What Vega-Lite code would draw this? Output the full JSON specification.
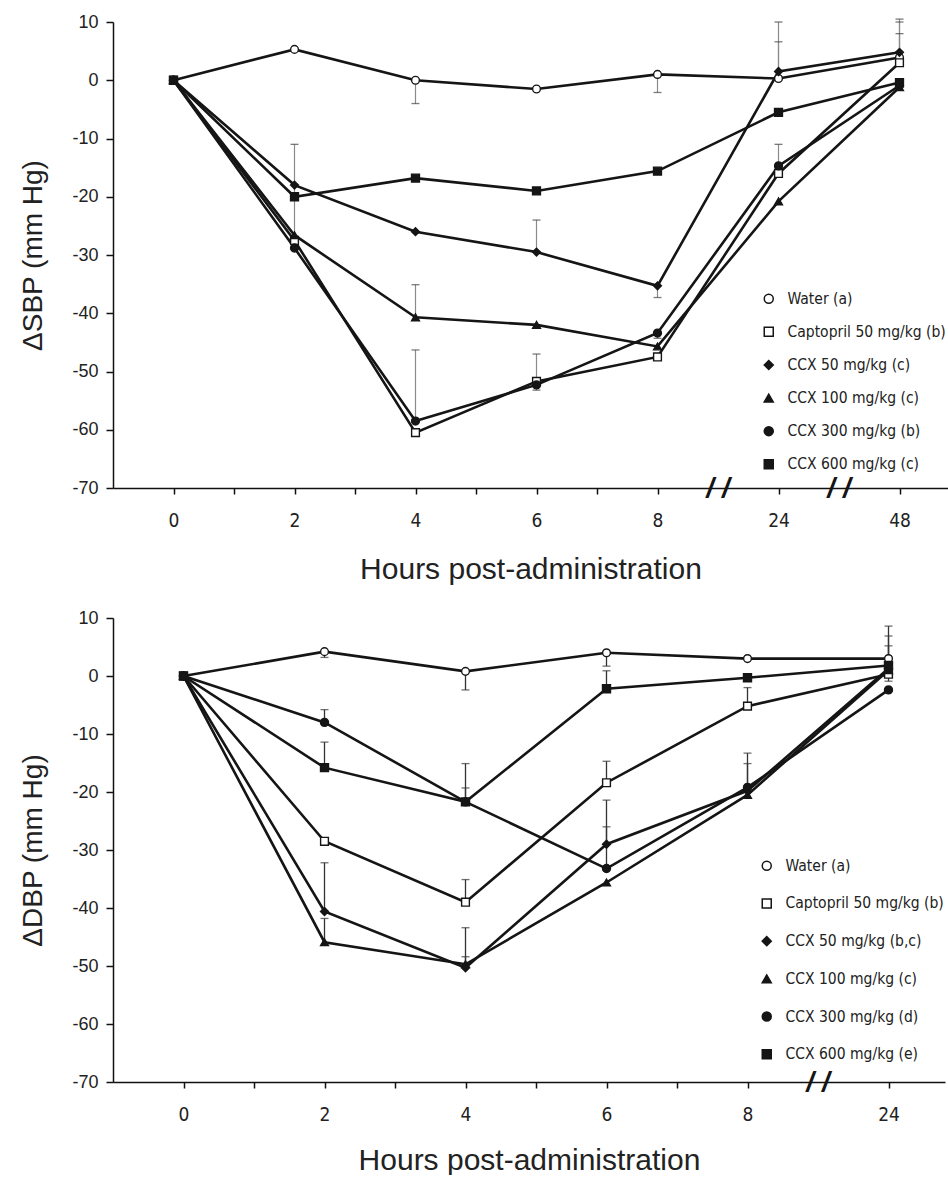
{
  "$schema": "https://vega.github.io/schema/vega-lite/v6.json",
  "background": "white",
  "autosize": {"type": "pad"},
  "padding": {"left": 19, "top": 13, "right": 0, "bottom": 0},
  "spacing": 130,
  "bounds": "flush",
  "config": {
    "view": {"stroke": null},
    "font": "Liberation Sans",
    "axis": {
      "grid": false,
      "domainColor": "#111",
      "domainWidth": 1.5,
      "tickColor": "#111",
      "tickWidth": 1.5,
      "labelColor": "#222",
      "titleColor": "#222",
      "labelFont": "Liberation Sans",
      "titleFont": "Liberation Sans",
      "titleFontWeight": "normal",
      "labelOverlap": false
    }
  },
  "datasets": {
    "sbp": [
      {"group": "Water (a)", "hours": 0, "change": 0},
      {"group": "Water (a)", "hours": 2, "change": 5.3},
      {"group": "Water (a)", "hours": 4, "change": 0},
      {"group": "Water (a)", "hours": 6, "change": -1.5},
      {"group": "Water (a)", "hours": 8, "change": 1.0},
      {"group": "Water (a)", "hours": 24, "change": 0.3},
      {"group": "Water (a)", "hours": 48, "change": 3.9},
      {"group": "Captopril 50 mg/kg (b)", "hours": 0, "change": 0},
      {"group": "Captopril 50 mg/kg (b)", "hours": 2, "change": -27.5},
      {"group": "Captopril 50 mg/kg (b)", "hours": 4, "change": -60.5},
      {"group": "Captopril 50 mg/kg (b)", "hours": 6, "change": -51.7},
      {"group": "Captopril 50 mg/kg (b)", "hours": 8, "change": -47.5},
      {"group": "Captopril 50 mg/kg (b)", "hours": 24, "change": -16},
      {"group": "Captopril 50 mg/kg (b)", "hours": 48, "change": 3.0},
      {"group": "CCX 50 mg/kg (c)", "hours": 0, "change": 0},
      {"group": "CCX 50 mg/kg (c)", "hours": 2, "change": -18},
      {"group": "CCX 50 mg/kg (c)", "hours": 4, "change": -26},
      {"group": "CCX 50 mg/kg (c)", "hours": 6, "change": -29.5},
      {"group": "CCX 50 mg/kg (c)", "hours": 8, "change": -35.3},
      {"group": "CCX 50 mg/kg (c)", "hours": 24, "change": 1.5},
      {"group": "CCX 50 mg/kg (c)", "hours": 48, "change": 4.8},
      {"group": "CCX 100 mg/kg (c)", "hours": 0, "change": 0},
      {"group": "CCX 100 mg/kg (c)", "hours": 2, "change": -26.6},
      {"group": "CCX 100 mg/kg (c)", "hours": 4, "change": -40.7},
      {"group": "CCX 100 mg/kg (c)", "hours": 6, "change": -42},
      {"group": "CCX 100 mg/kg (c)", "hours": 8, "change": -45.7},
      {"group": "CCX 100 mg/kg (c)", "hours": 24, "change": -20.8},
      {"group": "CCX 100 mg/kg (c)", "hours": 48, "change": -1.2},
      {"group": "CCX 300 mg/kg (b)", "hours": 0, "change": 0},
      {"group": "CCX 300 mg/kg (b)", "hours": 2, "change": -28.8},
      {"group": "CCX 300 mg/kg (b)", "hours": 4, "change": -58.5},
      {"group": "CCX 300 mg/kg (b)", "hours": 6, "change": -52.3},
      {"group": "CCX 300 mg/kg (b)", "hours": 8, "change": -43.4},
      {"group": "CCX 300 mg/kg (b)", "hours": 24, "change": -14.7},
      {"group": "CCX 300 mg/kg (b)", "hours": 48, "change": -0.9},
      {"group": "CCX 600 mg/kg (c)", "hours": 0, "change": 0},
      {"group": "CCX 600 mg/kg (c)", "hours": 2, "change": -20},
      {"group": "CCX 600 mg/kg (c)", "hours": 4, "change": -16.8},
      {"group": "CCX 600 mg/kg (c)", "hours": 6, "change": -19},
      {"group": "CCX 600 mg/kg (c)", "hours": 8, "change": -15.6},
      {"group": "CCX 600 mg/kg (c)", "hours": 24, "change": -5.5},
      {"group": "CCX 600 mg/kg (c)", "hours": 48, "change": -0.4}
    ],
    "sbp_err": [
      {"group": "CCX 100 mg/kg (c)", "hours": 2, "mean": -26.6, "cap": -11},
      {"group": "Water (a)", "hours": 4, "mean": 0, "cap": -4},
      {"group": "CCX 100 mg/kg (c)", "hours": 4, "mean": -40.7, "cap": -35.1},
      {"group": "CCX 300 mg/kg (b)", "hours": 4, "mean": -58.5, "cap": -46.3},
      {"group": "CCX 50 mg/kg (c)", "hours": 6, "mean": -29.5, "cap": -24},
      {"group": "Captopril 50 mg/kg (b)", "hours": 6, "mean": -51.7, "cap": -47},
      {"group": "CCX 300 mg/kg (b)", "hours": 6, "mean": -52.3, "cap": -53.2},
      {"group": "Water (a)", "hours": 8, "mean": 1.0, "cap": -2.1},
      {"group": "CCX 50 mg/kg (c)", "hours": 8, "mean": -35.3, "cap": -37.3},
      {"group": "CCX 300 mg/kg (b)", "hours": 8, "mean": -43.4, "cap": -44.3},
      {"group": "Water (a)", "hours": 24, "mean": 0.3, "cap": 10},
      {"group": "CCX 50 mg/kg (c)", "hours": 24, "mean": 1.5, "cap": 6.6},
      {"group": "Captopril 50 mg/kg (b)", "hours": 24, "mean": -16, "cap": -11},
      {"group": "CCX 50 mg/kg (c)", "hours": 48, "mean": 4.8, "cap": 10.5},
      {"group": "Water (a)", "hours": 48, "mean": 3.9, "cap": 10},
      {"group": "Captopril 50 mg/kg (b)", "hours": 48, "mean": 3.0, "cap": 8}
    ],
    "dbp": [
      {"group": "Water (a)", "hours": 0, "change": 0},
      {"group": "Water (a)", "hours": 2, "change": 4.2},
      {"group": "Water (a)", "hours": 4, "change": 0.8},
      {"group": "Water (a)", "hours": 6, "change": 4.0},
      {"group": "Water (a)", "hours": 8, "change": 3.0},
      {"group": "Water (a)", "hours": 24, "change": 3.0},
      {"group": "Captopril 50 mg/kg (b)", "hours": 0, "change": 0},
      {"group": "Captopril 50 mg/kg (b)", "hours": 2, "change": -28.5},
      {"group": "Captopril 50 mg/kg (b)", "hours": 4, "change": -39},
      {"group": "Captopril 50 mg/kg (b)", "hours": 6, "change": -18.4},
      {"group": "Captopril 50 mg/kg (b)", "hours": 8, "change": -5.2},
      {"group": "Captopril 50 mg/kg (b)", "hours": 24, "change": 0.3},
      {"group": "CCX 50 mg/kg (b,c)", "hours": 0, "change": 0},
      {"group": "CCX 50 mg/kg (b,c)", "hours": 2, "change": -40.6},
      {"group": "CCX 50 mg/kg (b,c)", "hours": 4, "change": -50.3},
      {"group": "CCX 50 mg/kg (b,c)", "hours": 6, "change": -29},
      {"group": "CCX 50 mg/kg (b,c)", "hours": 8, "change": -19.8},
      {"group": "CCX 50 mg/kg (b,c)", "hours": 24, "change": 1.3},
      {"group": "CCX 100 mg/kg (c)", "hours": 0, "change": 0},
      {"group": "CCX 100 mg/kg (c)", "hours": 2, "change": -45.9},
      {"group": "CCX 100 mg/kg (c)", "hours": 4, "change": -49.7},
      {"group": "CCX 100 mg/kg (c)", "hours": 6, "change": -35.6},
      {"group": "CCX 100 mg/kg (c)", "hours": 8, "change": -20.5},
      {"group": "CCX 100 mg/kg (c)", "hours": 24, "change": 1.0},
      {"group": "CCX 300 mg/kg (d)", "hours": 0, "change": 0},
      {"group": "CCX 300 mg/kg (d)", "hours": 2, "change": -8},
      {"group": "CCX 300 mg/kg (d)", "hours": 4, "change": -21.7},
      {"group": "CCX 300 mg/kg (d)", "hours": 6, "change": -33.2},
      {"group": "CCX 300 mg/kg (d)", "hours": 8, "change": -19.2},
      {"group": "CCX 300 mg/kg (d)", "hours": 24, "change": -2.4},
      {"group": "CCX 600 mg/kg (e)", "hours": 0, "change": 0},
      {"group": "CCX 600 mg/kg (e)", "hours": 2, "change": -15.8},
      {"group": "CCX 600 mg/kg (e)", "hours": 4, "change": -21.7},
      {"group": "CCX 600 mg/kg (e)", "hours": 6, "change": -2.2},
      {"group": "CCX 600 mg/kg (e)", "hours": 8, "change": -0.3},
      {"group": "CCX 600 mg/kg (e)", "hours": 24, "change": 1.8}
    ],
    "dbp_err": [
      {"group": "Water (a)", "hours": 2, "mean": 4.2, "cap": 3.2},
      {"group": "CCX 300 mg/kg (d)", "hours": 2, "mean": -8, "cap": -5.8},
      {"group": "CCX 600 mg/kg (e)", "hours": 2, "mean": -15.8, "cap": -11.4},
      {"group": "CCX 50 mg/kg (b,c)", "hours": 2, "mean": -40.6, "cap": -32.2},
      {"group": "CCX 100 mg/kg (c)", "hours": 2, "mean": -45.9, "cap": -41.8},
      {"group": "Water (a)", "hours": 4, "mean": 0.8, "cap": -2.4},
      {"group": "CCX 600 mg/kg (e)", "hours": 4, "mean": -21.7, "cap": -15.1},
      {"group": "CCX 300 mg/kg (d)", "hours": 4, "mean": -21.7, "cap": -19.3},
      {"group": "Captopril 50 mg/kg (b)", "hours": 4, "mean": -39, "cap": -35.1},
      {"group": "CCX 50 mg/kg (b,c)", "hours": 4, "mean": -50.3, "cap": -43.4},
      {"group": "CCX 100 mg/kg (c)", "hours": 4, "mean": -49.7, "cap": -48.4},
      {"group": "Water (a)", "hours": 6, "mean": 4.0, "cap": 1.7},
      {"group": "CCX 600 mg/kg (e)", "hours": 6, "mean": -2.2, "cap": 0.9},
      {"group": "Captopril 50 mg/kg (b)", "hours": 6, "mean": -18.4, "cap": -14.7},
      {"group": "CCX 50 mg/kg (b,c)", "hours": 6, "mean": -29, "cap": -21.4},
      {"group": "CCX 300 mg/kg (d)", "hours": 6, "mean": -33.2, "cap": -26},
      {"group": "Captopril 50 mg/kg (b)", "hours": 8, "mean": -5.2, "cap": -2.0},
      {"group": "CCX 50 mg/kg (b,c)", "hours": 8, "mean": -19.8, "cap": -13.3},
      {"group": "CCX 300 mg/kg (d)", "hours": 8, "mean": -19.2, "cap": -15.1},
      {"group": "Water (a)", "hours": 24, "mean": 3.0, "cap": 8.6},
      {"group": "CCX 600 mg/kg (e)", "hours": 24, "mean": 1.8, "cap": 6.9},
      {"group": "CCX 50 mg/kg (b,c)", "hours": 24, "mean": 1.3, "cap": 5.2},
      {"group": "Captopril 50 mg/kg (b)", "hours": 24, "mean": 0.3, "cap": -0.9}
    ],
    "sbp_breaks": [{"hours": 16}, {"hours": 36}],
    "dbp_breaks": [{"hours": 16}]
  },
  "vconcat": [
    {
      "width": 835,
      "height": 466,
      "layer": [
        {
          "data": {"name": "sbp_err"},
          "mark": {"type": "rule", "stroke": "#8a8a8a", "strokeWidth": 1.2},
          "encoding": {
            "x": {
              "field": "hours", "type": "quantitative",
              "scale": {"domain": [-1, 8, 24, 48, 57.6], "range": [0, 544.5, 665.5, 786.5, 835], "nice": false, "zero": false},
              "axis": {
                "values": [0, 1, 2, 3, 4, 5, 6, 7, 8, 24, 48],
                "labelExpr": "datum.value % 2 == 0 ? datum.label : ''",
                "title": "Hours post-administration",
                "titleFontSize": 30,
                "titlePadding": 24,
                "labelFont": "DejaVu Sans Condensed, Liberation Sans",
                "labelFontSize": 19,
                "labelPadding": 17,
                "tickSize": 6
              }
            },
            "y": {
              "field": "mean", "type": "quantitative",
              "scale": {"domain": [-70, 10], "nice": false, "zero": false},
              "axis": {
                "values": [-70, -60, -50, -40, -30, -20, -10, 0, 10],
                "labelExpr": "replace(datum.label, '\u2212', '-')",
                "title": "ΔSBP (mm Hg)",
                "titleFontSize": 28,
                "titlePadding": 24,
                "labelFontSize": 18,
                "labelPadding": 8,
                "tickSize": 7
              }
            },
            "y2": {"field": "cap"}
          }
        },
        {
          "data": {"name": "sbp_err"},
          "mark": {"type": "tick", "orient": "horizontal", "color": "#444", "thickness": 1.3, "size": 8},
          "encoding": {
            "x": {"field": "hours", "type": "quantitative"},
            "y": {"field": "cap", "type": "quantitative"}
          }
        },
        {
          "data": {"name": "sbp"},
          "mark": {"type": "line", "stroke": "#151515", "strokeWidth": 2.6},
          "encoding": {
            "x": {"field": "hours", "type": "quantitative"},
            "y": {"field": "change", "type": "quantitative"},
            "detail": {"field": "group"}
          }
        },
        {
          "data": {"name": "sbp_breaks"},
          "mark": {"type": "text", "text": "/ /", "font": "Liberation Sans", "fontSize": 28, "fontWeight": "bold", "fontStyle": "italic", "align": "center", "baseline": "middle", "dy": 1, "color": "#151515"},
          "encoding": {
            "x": {"field": "hours", "type": "quantitative"},
            "y": {"datum": -70}
          }
        },
        {
          "data": {"name": "sbp"},
          "mark": {"type": "point", "filled": true, "strokeWidth": 1.4, "opacity": 1},
          "encoding": {
            "x": {"field": "hours", "type": "quantitative"},
            "y": {"field": "change", "type": "quantitative"},
            "shape": {
              "field": "group", "type": "nominal",
              "scale": {
                "domain": ["Water (a)", "Captopril 50 mg/kg (b)", "CCX 50 mg/kg (c)", "CCX 100 mg/kg (c)", "CCX 300 mg/kg (b)", "CCX 600 mg/kg (c)", "CCX 50 mg/kg (b,c)", "CCX 300 mg/kg (d)", "CCX 600 mg/kg (e)"],
                "range": ["circle", "square", "diamond", "triangle-up", "circle", "square", "diamond", "circle", "square"]
              },
              "legend": {
                "title": null,
                "orient": "none",
                "legendX": 648,
                "legendY": 269,
                "values": ["Water (a)", "Captopril 50 mg/kg (b)", "CCX 50 mg/kg (c)", "CCX 100 mg/kg (c)", "CCX 300 mg/kg (b)", "CCX 600 mg/kg (c)"],
                "symbolSize": 81,
                "symbolStrokeWidth": 1.5,
                "labelFont": "DejaVu Sans Condensed, Liberation Sans",
                "labelFontSize": 15.5,
                "labelLimit": 300,
                "labelColor": "#222",
                "labelOffset": 11,
                "rowPadding": 16.1
              }
            },
            "fill": {
              "field": "group", "type": "nominal",
              "scale": {
                "domain": ["Water (a)", "Captopril 50 mg/kg (b)", "CCX 50 mg/kg (c)", "CCX 100 mg/kg (c)", "CCX 300 mg/kg (b)", "CCX 600 mg/kg (c)", "CCX 50 mg/kg (b,c)", "CCX 300 mg/kg (d)", "CCX 600 mg/kg (e)"],
                "range": ["white", "white", "#151515", "#151515", "#151515", "#151515", "#151515", "#151515", "#151515"]
              },
              "legend": {
                "title": null,
                "orient": "none",
                "legendX": 648,
                "legendY": 269,
                "values": ["Water (a)", "Captopril 50 mg/kg (b)", "CCX 50 mg/kg (c)", "CCX 100 mg/kg (c)", "CCX 300 mg/kg (b)", "CCX 600 mg/kg (c)"],
                "symbolSize": 81,
                "symbolStrokeWidth": 1.5,
                "labelFont": "DejaVu Sans Condensed, Liberation Sans",
                "labelFontSize": 15.5,
                "labelLimit": 300,
                "labelColor": "#222",
                "labelOffset": 11,
                "rowPadding": 16.1
              }
            },
            "stroke": {
              "field": "group", "type": "nominal",
              "scale": {
                "domain": ["Water (a)", "Captopril 50 mg/kg (b)", "CCX 50 mg/kg (c)", "CCX 100 mg/kg (c)", "CCX 300 mg/kg (b)", "CCX 600 mg/kg (c)", "CCX 50 mg/kg (b,c)", "CCX 300 mg/kg (d)", "CCX 600 mg/kg (e)"],
                "range": ["#151515", "#151515", "#151515", "#151515", "#151515", "#151515", "#151515", "#151515", "#151515"]
              },
              "legend": {
                "title": null,
                "orient": "none",
                "legendX": 648,
                "legendY": 269,
                "values": ["Water (a)", "Captopril 50 mg/kg (b)", "CCX 50 mg/kg (c)", "CCX 100 mg/kg (c)", "CCX 300 mg/kg (b)", "CCX 600 mg/kg (c)"],
                "symbolSize": 81,
                "symbolStrokeWidth": 1.5,
                "labelFont": "DejaVu Sans Condensed, Liberation Sans",
                "labelFontSize": 15.5,
                "labelLimit": 300,
                "labelColor": "#222",
                "labelOffset": 11,
                "rowPadding": 16.1
              }
            },
            "size": {
              "field": "group", "type": "nominal",
              "scale": {
                "domain": ["Water (a)", "Captopril 50 mg/kg (b)", "CCX 50 mg/kg (c)", "CCX 100 mg/kg (c)", "CCX 300 mg/kg (b)", "CCX 600 mg/kg (c)", "CCX 50 mg/kg (b,c)", "CCX 300 mg/kg (d)", "CCX 600 mg/kg (e)"],
                "range": [60, 64, 50, 64, 70, 80, 50, 70, 80]
              },
              "legend": null
            }
          }
        }
      ]
    },
    {
      "width": 832,
      "height": 464,
      "layer": [
        {
          "data": {"name": "dbp_err"},
          "mark": {"type": "rule", "stroke": "#333", "strokeWidth": 1.3},
          "encoding": {
            "x": {
              "field": "hours", "type": "quantitative",
              "scale": {"domain": [-1, 8, 24, 30.4], "range": [0, 634.5, 775.5, 832], "nice": false, "zero": false},
              "axis": {
                "values": [0, 1, 2, 3, 4, 5, 6, 7, 8, 24],
                "labelExpr": "datum.value % 2 == 0 ? datum.label : ''",
                "title": "Hours post-administration",
                "titleFontSize": 30,
                "titlePadding": 21,
                "labelFont": "DejaVu Sans Condensed, Liberation Sans",
                "labelFontSize": 19,
                "labelPadding": 17,
                "tickSize": 6
              }
            },
            "y": {
              "field": "mean", "type": "quantitative",
              "scale": {"domain": [-70, 10], "nice": false, "zero": false},
              "axis": {
                "values": [-70, -60, -50, -40, -30, -20, -10, 0, 10],
                "labelExpr": "replace(datum.label, '\u2212', '-')",
                "title": "ΔDBP (mm Hg)",
                "titleFontSize": 28,
                "titlePadding": 24,
                "labelFontSize": 18,
                "labelPadding": 8,
                "tickSize": 7
              }
            },
            "y2": {"field": "cap"}
          }
        },
        {
          "data": {"name": "dbp_err"},
          "mark": {"type": "tick", "orient": "horizontal", "color": "#333", "thickness": 1.3, "size": 8},
          "encoding": {
            "x": {"field": "hours", "type": "quantitative"},
            "y": {"field": "cap", "type": "quantitative"}
          }
        },
        {
          "data": {"name": "dbp"},
          "mark": {"type": "line", "stroke": "#151515", "strokeWidth": 2.6},
          "encoding": {
            "x": {"field": "hours", "type": "quantitative"},
            "y": {"field": "change", "type": "quantitative"},
            "detail": {"field": "group"}
          }
        },
        {
          "data": {"name": "dbp_breaks"},
          "mark": {"type": "text", "text": "/ /", "font": "Liberation Sans", "fontSize": 28, "fontWeight": "bold", "fontStyle": "italic", "align": "center", "baseline": "middle", "dy": 1, "color": "#151515"},
          "encoding": {
            "x": {"field": "hours", "type": "quantitative"},
            "y": {"datum": -70}
          }
        },
        {
          "data": {"name": "dbp"},
          "mark": {"type": "point", "filled": true, "strokeWidth": 1.4, "opacity": 1},
          "encoding": {
            "x": {"field": "hours", "type": "quantitative"},
            "y": {"field": "change", "type": "quantitative"},
            "shape": {
              "field": "group", "type": "nominal",
              "scale": {
                "domain": ["Water (a)", "Captopril 50 mg/kg (b)", "CCX 50 mg/kg (c)", "CCX 100 mg/kg (c)", "CCX 300 mg/kg (b)", "CCX 600 mg/kg (c)", "CCX 50 mg/kg (b,c)", "CCX 300 mg/kg (d)", "CCX 600 mg/kg (e)"],
                "range": ["circle", "square", "diamond", "triangle-up", "circle", "square", "diamond", "circle", "square"]
              },
              "legend": {
                "title": " ",
                "titleOrient": "bottom",
                "titleFontSize": 13,
                "titlePadding": 5,
                "orient": "bottom-right",
                "offset": 1,
                "values": ["Water (a)", "Captopril 50 mg/kg (b)", "CCX 50 mg/kg (b,c)", "CCX 100 mg/kg (c)", "CCX 300 mg/kg (d)", "CCX 600 mg/kg (e)"],
                "symbolSize": 81,
                "symbolStrokeWidth": 1.5,
                "labelFont": "DejaVu Sans Condensed, Liberation Sans",
                "labelFontSize": 15.5,
                "labelLimit": 300,
                "labelColor": "#222",
                "labelOffset": 11,
                "rowPadding": 20.7
              }
            },
            "fill": {
              "field": "group", "type": "nominal",
              "scale": {
                "domain": ["Water (a)", "Captopril 50 mg/kg (b)", "CCX 50 mg/kg (c)", "CCX 100 mg/kg (c)", "CCX 300 mg/kg (b)", "CCX 600 mg/kg (c)", "CCX 50 mg/kg (b,c)", "CCX 300 mg/kg (d)", "CCX 600 mg/kg (e)"],
                "range": ["white", "white", "#151515", "#151515", "#151515", "#151515", "#151515", "#151515", "#151515"]
              },
              "legend": {
                "title": " ",
                "titleOrient": "bottom",
                "titleFontSize": 13,
                "titlePadding": 5,
                "orient": "bottom-right",
                "offset": 1,
                "values": ["Water (a)", "Captopril 50 mg/kg (b)", "CCX 50 mg/kg (b,c)", "CCX 100 mg/kg (c)", "CCX 300 mg/kg (d)", "CCX 600 mg/kg (e)"],
                "symbolSize": 81,
                "symbolStrokeWidth": 1.5,
                "labelFont": "DejaVu Sans Condensed, Liberation Sans",
                "labelFontSize": 15.5,
                "labelLimit": 300,
                "labelColor": "#222",
                "labelOffset": 11,
                "rowPadding": 20.7
              }
            },
            "stroke": {
              "field": "group", "type": "nominal",
              "scale": {
                "domain": ["Water (a)", "Captopril 50 mg/kg (b)", "CCX 50 mg/kg (c)", "CCX 100 mg/kg (c)", "CCX 300 mg/kg (b)", "CCX 600 mg/kg (c)", "CCX 50 mg/kg (b,c)", "CCX 300 mg/kg (d)", "CCX 600 mg/kg (e)"],
                "range": ["#151515", "#151515", "#151515", "#151515", "#151515", "#151515", "#151515", "#151515", "#151515"]
              },
              "legend": {
                "title": " ",
                "titleOrient": "bottom",
                "titleFontSize": 13,
                "titlePadding": 5,
                "orient": "bottom-right",
                "offset": 1,
                "values": ["Water (a)", "Captopril 50 mg/kg (b)", "CCX 50 mg/kg (b,c)", "CCX 100 mg/kg (c)", "CCX 300 mg/kg (d)", "CCX 600 mg/kg (e)"],
                "symbolSize": 81,
                "symbolStrokeWidth": 1.5,
                "labelFont": "DejaVu Sans Condensed, Liberation Sans",
                "labelFontSize": 15.5,
                "labelLimit": 300,
                "labelColor": "#222",
                "labelOffset": 11,
                "rowPadding": 20.7
              }
            },
            "size": {
              "field": "group", "type": "nominal",
              "scale": {
                "domain": ["Water (a)", "Captopril 50 mg/kg (b)", "CCX 50 mg/kg (c)", "CCX 100 mg/kg (c)", "CCX 300 mg/kg (b)", "CCX 600 mg/kg (c)", "CCX 50 mg/kg (b,c)", "CCX 300 mg/kg (d)", "CCX 600 mg/kg (e)"],
                "range": [60, 64, 50, 64, 70, 80, 50, 70, 80]
              },
              "legend": null
            }
          }
        }
      ]
    }
  ]
}
